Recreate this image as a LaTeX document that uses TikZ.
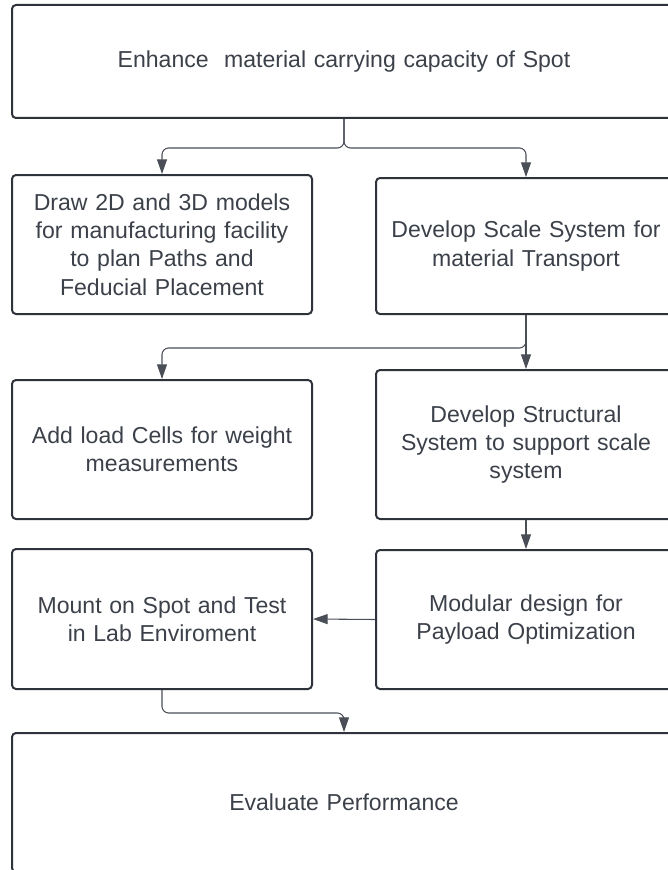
\documentclass[tikz,border=0pt]{standalone}
\usepackage{fontspec}
\setmainfont{Liberation Sans}
\usetikzlibrary{arrows.meta}

\definecolor{boxline}{HTML}{2E333B}
\definecolor{txt}{HTML}{3B4049}
\definecolor{connline}{HTML}{4A4F57}

\tikzset{
    stepbox/.style={draw=boxline, line width=1.5pt, rounded corners=3pt,
        minimum width=225pt, text width=215pt, align=center, text=txt,
        font=\fontsize{17.3}{21.3}\selectfont},
    widebox/.style={stepbox, minimum width=498pt, text width=480pt},
    conn/.style={draw=connline, line width=0.8pt, rounded corners=5pt,
        -{Triangle[length=11pt,width=7.5pt]}}
}

\begin{document}
\begin{tikzpicture}[x=0.75pt, y=-0.75pt]
        \useasboundingbox (0,0) rectangle (667,870);
        \node[widebox, minimum height=84.75pt] (goal) at (344,61.5) {Enhance\ \ material carrying capacity of Spot};
        \node[stepbox, minimum height=104.25pt] (models) at (162,244.5) {Draw 2D and 3D models\\for manufacturing facility\\to plan Paths and\\Feducial Placement};
        \node[stepbox, minimum height=102pt] (scale) at (526,246) {Develop Scale System for\\material Transport};
        \node[stepbox, minimum height=104.25pt] (cells) at (162,449.5) {Add load Cells for weight\\measurements};
        \node[stepbox, minimum height=111.75pt] (struct) at (526,444.5) {Develop Structural\\System to support scale\\system};
        \node[stepbox, minimum height=105pt] (mount) at (162,619) {Mount on Spot and Test\\in Lab Enviroment};
        \node[stepbox, minimum height=104.25pt] (modular) at (526,619.5) {Modular design for\\Payload Optimization};
        \node[widebox, minimum height=104.25pt] (eval) at (344,802.5) {Evaluate Performance};
        % connectors
        \draw[conn] (goal.south) -- ++(0,29) -| (models.north);
        \draw[conn] (goal.south) -- ++(0,29) -| (scale.north);
        \draw[conn] (scale.south) -- (struct.north);
        \draw[conn] (scale.south) -- ++(0,33) -| (cells.north);
        \draw[conn] (struct.south) -- (modular.north);
        \draw[conn] (modular.west) -- (mount.east);
        \draw[conn] (mount.south) -- ++(0,23) -| (eval.north);
    \end{tikzpicture}
\end{document}
